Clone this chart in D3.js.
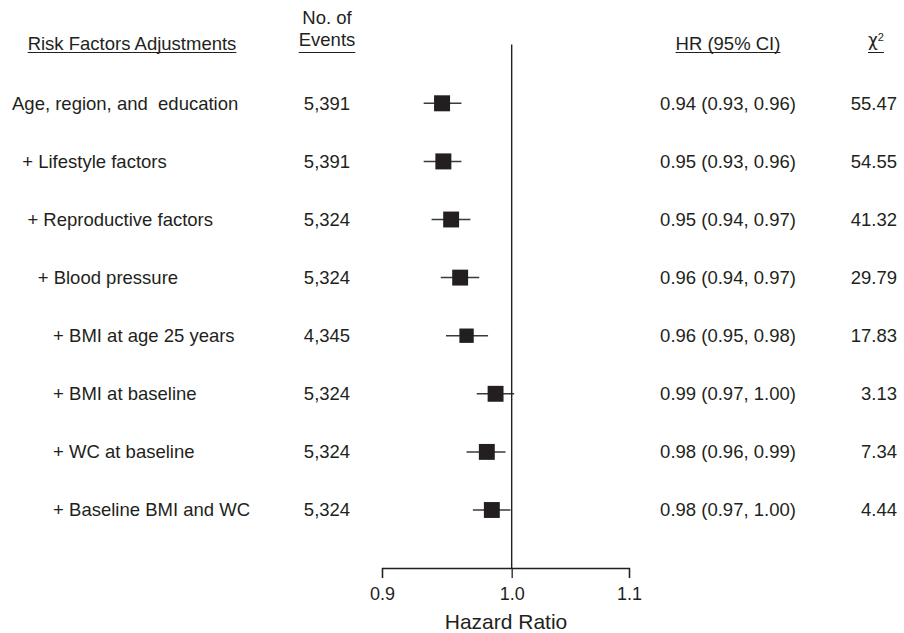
<!DOCTYPE html>
<html>
<head>
<meta charset="utf-8">
<script src="https://cdn.jsdelivr.net/npm/d3@7"></script>
<style>
  html, body { margin: 0; padding: 0; background: #fff; }
  svg text { font-family: "Liberation Sans", Arial, sans-serif; fill: #231f20; white-space: pre; }
</style>
</head>
<body>
<svg id="chart" width="904" height="633"></svg>
<script>
// row labels (leading spaces give the stepped indent)
const labels = [
  'Age, region, and  education',
  '  + Lifestyle factors',
  '   + Reproductive factors',
  '     + Blood pressure',
  '        + BMI at age 25 years',
  '        + BMI at baseline',
  '        + WC at baseline',
  '        + Baseline BMI and WC'
]
const events = [5391, 5391, 5324, 5324, 4345, 5324, 5324, 5324]
const hr = [0.945, 0.946, 0.952, 0.959, 0.964, 0.987, 0.980, 0.984]
const lower = [0.931, 0.931, 0.937, 0.944, 0.948, 0.972, 0.964, 0.969]
const upper = [0.960, 0.960, 0.967, 0.974, 0.981, 1.002, 0.995, 0.999]
const hrText = [
  '0.94 (0.93, 0.96)',
  '0.95 (0.93, 0.96)',
  '0.95 (0.94, 0.97)',
  '0.96 (0.94, 0.97)',
  '0.96 (0.95, 0.98)',
  '0.99 (0.97, 1.00)',
  '0.98 (0.96, 0.99)',
  '0.98 (0.97, 1.00)'
]
const chiSq = ['55.47', '54.55', '41.32', '29.79', '17.83', '3.13', '7.34', '4.44']
const xTicks = [0.9, 1.0, 1.1]

const rows = labels.map((label, i) => ({
  label,
  events: events[i],
  hr: hr[i],
  lo: lower[i],
  hi: upper[i],
  hrText: hrText[i],
  chi: chiSq[i]
}))

const svg = d3.select('#chart')
const ink = '#231f20'
const fontSize = 18.5

const x = d3.scaleLog().domain([0.9, 1.1]).range([382, 629])
const y = d3.scalePoint().domain(labels).range([103.3, 510])
const boxSize = d3.scaleSqrt().domain([0, d3.max(events)]).range([0, 16])
const axisY = 568

// column headers
const headerG = svg.append('g').attr('class', 'headers').style('font-size', fontSize + 'px')

const underline = (sel) => {
  sel.each(function() {
    const b = this.getBBox()
    headerG.append('line')
      .attr('x1', b.x).attr('x2', b.x + b.width)
      .attr('y1', 52.5).attr('y2', 52.5)
      .attr('stroke', ink).attr('stroke-width', 1)
  })
}

headerG.append('text')
  .attr('x', 132).attr('y', 44).attr('dy', '0.35em')
  .attr('text-anchor', 'middle')
  .text('Risk Factors Adjustments')
  .call(underline)

headerG.append('text')
  .attr('x', 327).attr('y', 18).attr('dy', '0.35em')
  .attr('text-anchor', 'middle')
  .text('No. of')

headerG.append('text')
  .attr('x', 327).attr('y', 40).attr('dy', '0.35em')
  .attr('text-anchor', 'middle')
  .text('Events')
  .call(underline)

headerG.append('text')
  .attr('x', 728).attr('y', 44).attr('dy', '0.35em')
  .attr('text-anchor', 'middle')
  .text('HR (95% CI)')
  .call(underline)

const chiHead = headerG.append('text')
  .attr('x', 876).attr('y', 40).attr('dy', '0.35em')
  .attr('text-anchor', 'middle')
chiHead.append('tspan').style('font-family', '"DejaVu Sans", sans-serif').style('font-size', '17px').text('χ')
chiHead.append('tspan').attr('dy', '-0.5em').style('font-size', '11px').text('2')
chiHead.call(underline)

// table columns
const rowG = svg.append('g').attr('class', 'rows').style('font-size', fontSize + 'px')
  .selectAll('g')
  .data(rows)
  .join('g')
  .attr('transform', d => `translate(0,${y(d.label)})`)

rowG.append('text')
  .attr('x', 12).attr('dy', '0.35em')
  .attr('xml:space', 'preserve')
  .text(d => d.label)

rowG.append('text')
  .attr('x', 327).attr('dy', '0.35em')
  .attr('text-anchor', 'middle')
  .text(d => d3.format(',')(d.events))

rowG.append('text')
  .attr('x', 728).attr('dy', '0.35em')
  .attr('text-anchor', 'middle')
  .text(d => d.hrText)

rowG.append('text')
  .attr('x', 897).attr('dy', '0.35em')
  .attr('text-anchor', 'end')
  .text(d => d.chi)

// reference line at HR = 1
svg.append('line')
  .attr('x1', x(1)).attr('x2', x(1))
  .attr('y1', 44.5).attr('y2', axisY)
  .attr('stroke', ink).attr('stroke-width', 1.4)

// confidence intervals
rowG.append('line')
  .attr('x1', d => x(d.lo)).attr('x2', d => x(d.hi))
  .attr('stroke', '#3a3a3a').attr('stroke-width', 1.5)

// point estimates
rowG.append('rect')
  .attr('x', d => x(d.hr) - boxSize(d.events) / 2)
  .attr('y', d => -boxSize(d.events) / 2)
  .attr('width', d => boxSize(d.events))
  .attr('height', d => boxSize(d.events))
  .attr('fill', ink)

// x axis
const axisG = svg.append('g')
  .attr('transform', `translate(0,${axisY})`)
  .call(d3.axisBottom(x)
    .tickValues(xTicks)
    .tickFormat(d3.format('.1f'))
    .tickSize(10)
    .tickSizeOuter(10)
    .tickPadding(9))

axisG.selectAll('path, line').attr('stroke', ink).attr('stroke-width', 1.3)
axisG.selectAll('text')
  .attr('fill', ink)
  .style('font-family', '"Liberation Sans", Arial, sans-serif')
  .style('font-size', '18px')

svg.append('text')
  .attr('x', 506).attr('y', 622).attr('dy', '0.35em')
  .attr('text-anchor', 'middle')
  .style('font-size', '21px')
  .text('Hazard Ratio')
</script>
</body>
</html>
